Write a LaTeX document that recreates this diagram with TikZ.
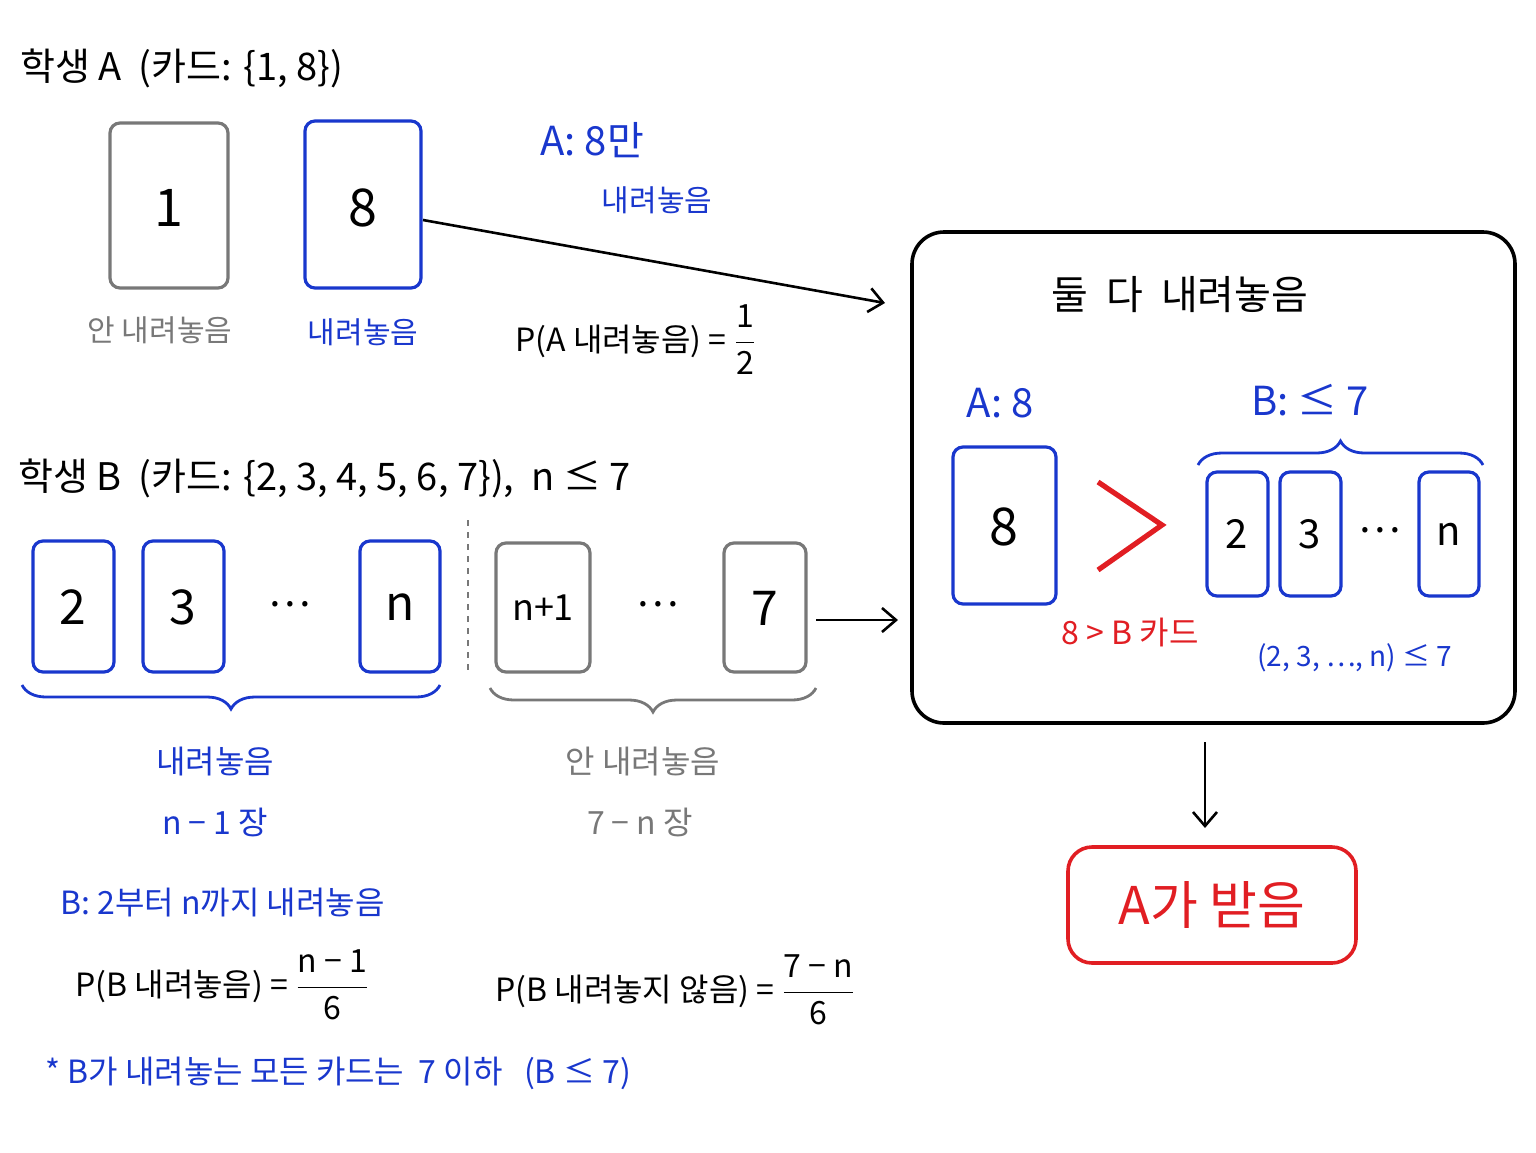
\documentclass[tikz,border=0pt]{standalone}
\usepackage{fontspec}
\setmainfont{Noto Sans CJK KR}
\usetikzlibrary{decorations.pathreplacing,arrows.meta}
\definecolor{bl}{RGB}{25,55,205}
\definecolor{gr}{RGB}{120,120,120}
\definecolor{rd}{RGB}{225,30,35}
\newcommand{\myfrac}[2]{$\displaystyle\frac{\mbox{#1}}{\mbox{#2}}$}
\begin{document}
\begin{tikzpicture}[x=0.5pt,y=-0.5pt,
 card/.style={draw=#1,line width=1.6pt,rounded corners=5pt},
 t/.style={font=\fontsize{#1}{#1}\selectfont,inner sep=0pt},
 arr/.style={line width=1.3pt,-{Straight Barb[length=7pt,width=12pt]}},
 br/.style={decorate,decoration={brace,amplitude=12pt},line width=1.4pt}]
\useasboundingbox (0,0) rectangle (1536,1152);
% Student A
\node[t=19,anchor=west] (ta) at (20,68) {학생\ A\ \ (카드: \{1, 8\})};
\draw[card=gr] (110,123) rectangle (228,288); \node[t=26] (c1) at (169,208) {1};
\draw[card=bl] (305,121) rectangle (421,288); \node[t=26] (c8) at (363,208) {8};
\node[t=15,text=gr] (l1) at (160,330) {안 내려놓음};
\node[t=15,text=bl] (l2) at (363,332) {내려놓음};
\node[t=20,text=bl,anchor=west] (a8) at (540,140) {A:\ 8만};
\node[t=15,text=bl] (a8b) at (657,200) {내려놓음};
\coordinate (s1) at (423,220); \coordinate (e1) at (885,303);
\draw[arr] (s1) -- (e1);
\node[t=16,anchor=west] (pa) at (515,340) {P(A 내려놓음) = \myfrac{1}{2}};
% big box
\draw[line width=1.8pt,rounded corners=16pt] (912,232) rectangle (1515,723);
\node[t=20] (both) at (1180,295) {둘\ \ 다\ \ 내려놓음};
\node[t=20,text=bl] (a88) at (1000,403) {A:\ 8};
\draw[card=bl] (953,447) rectangle (1056,604); \node[t=26] (b8) at (1004,527) {8};
\draw[rd,line width=2.6pt] (1098,482) -- (1162,525) -- (1098,570);
\node[t=20,text=bl] (b7) at (1310,400) {B:\ ≤ 7};
\draw[br,bl] (1198,465) -- (1483,465);
\draw[card=bl] (1207,472) rectangle (1268,596); \node[t=20] at (1237,534) {2};
\draw[card=bl] (1280,472) rectangle (1341,596); \node[t=20] at (1310,534) {3};
\node[t=20] at (1380,530) {⋯};
\draw[card=bl] (1419,472) rectangle (1479,596); \node[t=20] at (1449,534) {n};
\node[t=16,text=rd] (gtb) at (1130,632) {8 > B 카드};
\node[t=14,text=bl] (le7) at (1355,658) {(2, 3, ⋯, n) ≤ 7};
\coordinate (s3) at (1205,742); \coordinate (e3) at (1205,828);
\draw[arr] (s3) -- (e3);
\node[draw=rd,line width=1.8pt,rounded corners=12pt,minimum width=288*0.5pt,minimum height=116*0.5pt,t=26,text=rd] (recv) at (1212,905) {A가\ 받음};
% Student B
\node[t=19,anchor=west] (tb) at (18,478) {학생\ B\ \ (카드: \{2, 3, 4, 5, 6, 7\}),\ \ n ≤ 7};
\draw[card=bl] (33,541) rectangle (114,672); \node[t=24] at (73,607) {2};
\draw[card=bl] (143,541) rectangle (224,672); \node[t=24] at (183,607) {3};
\node[t=20] at (290,604) {⋯};
\draw[card=bl] (360,541) rectangle (440,672); \node[t=24] at (400,607) {n};
\draw[gr,dashed,line width=1.2pt] (468,520) -- (468,672);
\draw[card=gr] (496,543) rectangle (590,672); \node[t=18] at (543,608) {n+1};
\node[t=20] at (658,604) {⋯};
\draw[card=gr] (724,543) rectangle (806,672); \node[t=24] at (765,608) {7};
\coordinate (s2) at (816,620); \coordinate (e2) at (898,620);
\draw[arr] (s2) -- (e2);
\draw[br,bl,decoration={mirror}] (22,685) -- (440,685);
\draw[br,gr,decoration={mirror}] (490,688) -- (816,688);
\node[t=16,text=bl] at (215,762) {내려놓음};
\node[t=16,text=bl] at (215,822) {n − 1 장};
\node[t=16,text=gr] at (643,762) {안 내려놓음};
\node[t=16,text=gr] at (640,822) {7 − n 장};
\node[t=16,text=bl,anchor=west] at (60,903) {B:\ 2부터\ n까지\ 내려놓음};
\node[t=16,anchor=west] at (75,985) {P(B 내려놓음) = \myfrac{n − 1}{6}};
\node[t=16,anchor=west] at (495,990) {P(B 내려놓지 않음) = \myfrac{7 − n}{6}};
\node[t=16,text=bl,anchor=west] at (45,1073) {* B가 내려놓는 모든 카드는 \ 7 이하 \ \ (B ≤ 7)};
\end{tikzpicture}
\end{document}
